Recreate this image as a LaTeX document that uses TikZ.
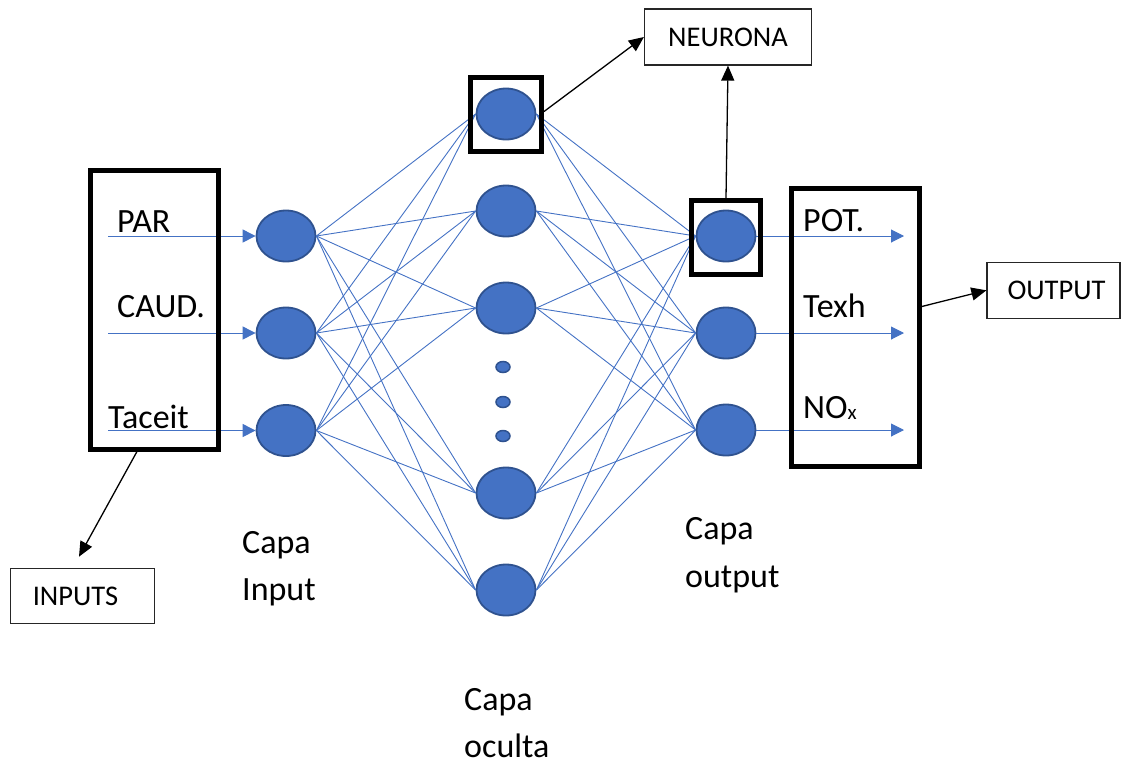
\documentclass[tikz,border=0pt]{standalone}
\usepackage{fontspec}
\setmainfont{Carlito}
\usetikzlibrary{shapes.geometric,arrows.meta}
\definecolor{nblue}{HTML}{4472C4}
\definecolor{nedge}{HTML}{2F528F}
\begin{document}
\begin{tikzpicture}[x=1pt,y=-1pt,
  neuron/.style={ellipse, draw=nedge, line width=1.8pt, fill=nblue,
    minimum width=59pt, minimum height=51pt, inner sep=0pt},
  dotn/.style={ellipse, draw=nedge, line width=1.5pt, fill=nblue,
    minimum width=14pt, minimum height=11pt, inner sep=0pt},
  link/.style={draw=nblue, line width=0.9pt},
  feed/.style={draw=nblue, line width=1pt, -{Triangle[length=13pt,width=13pt]}},
  frame/.style={draw=black, line width=5pt, inner sep=0pt},
  tag/.style={draw=black!85, line width=1.2pt, inner sep=0pt,
    font=\fontsize{28.5}{32}\selectfont},
  pointer/.style={draw=black, line width=1.3pt, -{Triangle[length=15pt,width=13pt]}},
  lbl/.style={anchor=base west, inner sep=0pt, font=\fontsize{34}{40}\selectfont}
]
\useasboundingbox (0,0) rectangle (1121,764);

% input layer
\node[neuron] (i1) at (286,236) {};
\node[neuron] (i2) at (286,333) {};
\node[neuron] (i3) at (286,430.5) {};

% hidden layer
\node[neuron] (h1) at (506,114) {};
\node[neuron] (h2) at (506,211) {};
\node[neuron] (h3) at (506,308) {};
\node[neuron] (h4) at (506,493) {};
\node[neuron] (h5) at (506,590) {};
\node[dotn] (d1) at (503,367) {};
\node[dotn] (d2) at (503,402) {};
\node[dotn] (d3) at (503,436) {};

% output layer
\node[neuron] (o1) at (726,236) {};
\node[neuron] (o2) at (726,333) {};
\node[neuron] (o3) at (726,430) {};

% full connections between layers
\foreach \a in {1,2,3}{
  \foreach \b in {1,...,5}{
    \draw[link] (i\a.east) -- (h\b.west);
    \draw[link] (h\b.east) -- (o\a.west);
  }
}

% input signals
\coordinate (s1) at (108,236);
\coordinate (s2) at (108,333);
\coordinate (s3) at (108,430.5);
\draw[feed] (s1) -- (i1.west);
\draw[feed] (s2) -- (i2.west);
\draw[feed] (s3) -- (i3.west);

% output signals
\coordinate (t1) at (904,236);
\coordinate (t2) at (904,333);
\coordinate (t3) at (904,430);
\draw[feed] (o1.east) -- (t1);
\draw[feed] (o2.east) -- (t2);
\draw[feed] (o3.east) -- (t3);

% variable names
\node[lbl] (lpar) at (117,232) {PAR};
\node[lbl] (lcaud) at (117,317) {CAUD.};
\node[lbl] (ltac) at (108,428) {Taceit};
\node[lbl] (lpot) at (803,231) {POT.};
\node[lbl] (ltexh) at (803,317) {Texh};
\node[lbl] (lnox) at (803,418) {NO{\fontsize{21}{21}\selectfont\raisebox{-1.5pt}{x}}};

% layer names
\node[lbl] (cin1) at (242,553) {Capa};
\node[lbl] (cin2) at (242,600) {Input};
\node[lbl] (chid1) at (464,710) {Capa};
\node[lbl] (chid2) at (464,757) {oculta};
\node[lbl] (cout1) at (685,539) {Capa};
\node[lbl] (cout2) at (685,587) {output};

% thick frames
\node[frame, minimum width=128pt, minimum height=279pt] (inbox) at (154,309.5) {};
\node[frame, minimum width=71pt, minimum height=74pt] (hbox) at (506,114.5) {};
\node[frame, minimum width=69pt, minimum height=74pt] (obox) at (726,237.5) {};
\node[frame, minimum width=128pt, minimum height=278pt] (outbox) at (855.3,327.5) {};

% captions
\node[tag, minimum width=167pt, minimum height=56pt] (neurona) at (728,37) {NEURONA};
\node[tag, minimum width=143.6pt, minimum height=55.7pt] (inputs) at (82.5,596) {INPUTS\kern14pt};
\node[tag, minimum width=133pt, minimum height=56pt] (output) at (1053.5,290.3) {\kern6pt OUTPUT};

% pointers to captions
\draw[pointer] ([yshift=3pt]hbox.east) -- (neurona.west);
\draw[pointer] (obox.north) -- (neurona.south);
\draw[pointer] ([yshift=21pt]outbox.east) -- (output.west);
\coordinate (inputsTip) at (79,556.7);
\draw[pointer] ([xshift=-17pt]inbox.south) -- (inputsTip);
\end{tikzpicture}
\end{document}
